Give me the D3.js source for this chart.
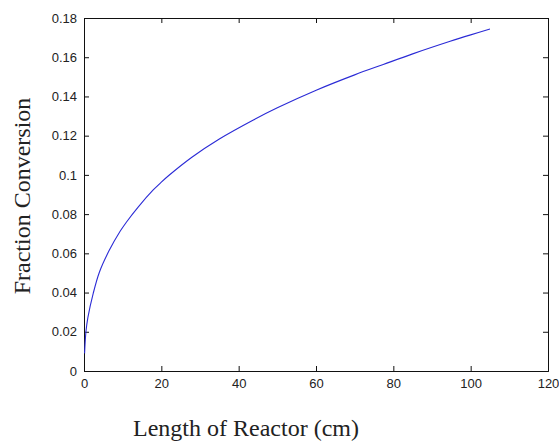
<!DOCTYPE html>
<html>
<head>
<meta charset="utf-8">
<script src="https://cdn.jsdelivr.net/npm/d3@7"></script>
<style>
  body { margin: 0; background: #fff; }
  .tick text { font-family: "Liberation Sans", Arial, sans-serif; font-size: 13px; fill: #222; }
  .label { font-family: "Liberation Serif", "Times New Roman", serif; font-size: 24px; fill: #222; }
</style>
</head>
<body>
<script>
//values
var lengthCm = [0.15, 0.5, 1, 2.4, 4, 6.5, 9.3, 11, 14, 17.9, 20, 22, 27.9, 35, 43.8, 50, 60.2, 70, 77.4, 85, 94.7, 100, 105];
var conversion = [0.009, 0.020, 0.0272, 0.0397, 0.0505, 0.0614, 0.0711, 0.0760, 0.0836, 0.0923, 0.0963, 0.0998, 0.109, 0.1183, 0.128, 0.1342, 0.1433, 0.1510, 0.1563, 0.1617, 0.1681, 0.1714, 0.1744];
var xTicks = [0, 20, 40, 60, 80, 100, 120];
var yTicks = [0, 0.02, 0.04, 0.06, 0.08, 0.1, 0.12, 0.14, 0.16, 0.18];

var width = 559,
    height = 443;
var margin = {left: 84, top: 18, right: 11, bottom: 72};
var w = width - margin.left - margin.right,
    h = height - margin.top - margin.bottom;

var svg = d3.select("body")
    .append("svg")
    .attr("width", width)
    .attr("height", height);

var g = svg.append("g")
    .attr("transform", "translate(" + margin.left + "," + margin.top + ")");

var x = d3.scaleLinear().domain([0, 120]).range([0, w]);
var y = d3.scaleLinear().domain([0, 0.18]).range([h, 0]);

var fmt = function(d){ return d3.format("")(+d.toFixed(2)); };

//axes with inward ticks, box style
g.append("g")
    .attr("transform", "translate(0," + h + ")")
    .call(d3.axisBottom(x).tickValues(xTicks).tickSize(-5).tickPadding(8).tickFormat(fmt));
g.append("g")
    .call(d3.axisLeft(y).tickValues(yTicks).tickSize(-5).tickPadding(7).tickFormat(fmt));
g.append("g")
    .call(d3.axisTop(x).tickValues(xTicks).tickSize(-5).tickFormat(""));
g.append("g")
    .attr("transform", "translate(" + w + ",0)")
    .call(d3.axisRight(y).tickValues(yTicks).tickSize(-5).tickFormat(""));

g.selectAll(".domain").attr("stroke", "#111");
g.selectAll(".tick line").attr("stroke", "#111");

//the curve
var line = d3.line()
    .x(function(d, i){ return x(lengthCm[i]); })
    .y(function(d){ return y(d); })
    .curve(d3.curveCatmullRom.alpha(0.5));

g.append("path")
    .datum(conversion)
    .attr("fill", "none")
    .attr("stroke", "#2b2bd6")
    .attr("stroke-width", 1.1)
    .attr("d", line);

//labels
svg.append("text")
    .attr("class", "label")
    .attr("x", 246)
    .attr("y", 436)
    .attr("text-anchor", "middle")
    .text("Length of Reactor (cm)");

svg.append("text")
    .attr("class", "label")
    .attr("transform", "translate(30,196) rotate(-90)")
    .attr("text-anchor", "middle")
    .text("Fraction Conversion");
</script>
</body>
</html>
